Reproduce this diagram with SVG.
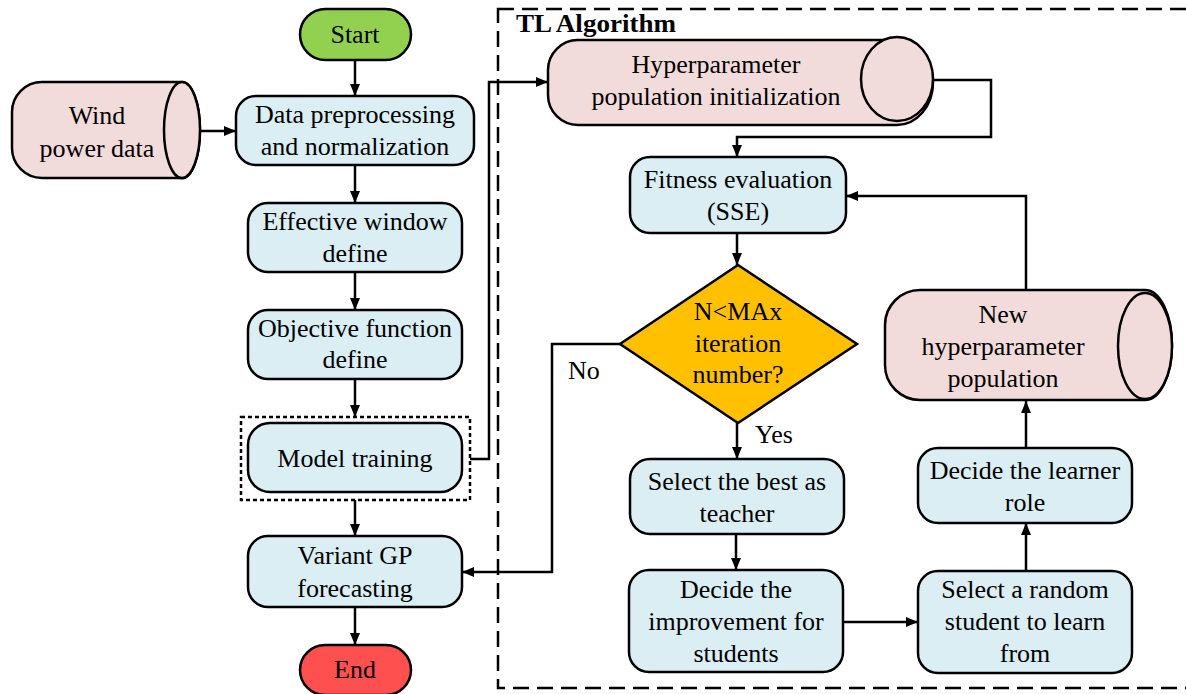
<svg xmlns="http://www.w3.org/2000/svg" width="1186" height="694" viewBox="0 0 1186 694">
  <defs>
    <marker id="arrow" viewBox="0 0 12 10" refX="12" refY="5" markerWidth="12" markerHeight="10" markerUnits="userSpaceOnUse" orient="auto">
      <path d="M0,0 L12,5 L0,10 Z" fill="#000"/>
    </marker>
    <style>
      text { font-family: "Liberation Serif", "Times New Roman", serif; font-size: 26px; fill: #000; text-anchor: middle; }
      .title { font-weight: bold; font-size: 26px; text-anchor: start; }
      .lbl { text-anchor: start; }
      .proc { fill: #daeef3; stroke: #000; stroke-width: 2.5; }
      .data { fill: #f2dcdb; stroke: #000; stroke-width: 2.5; }
      .start { fill: #92d050; stroke: #000; stroke-width: 2.5; }
      .end { fill: #ff5050; stroke: #000; stroke-width: 2.5; }
      .dec { fill: #ffc000; stroke: #000; stroke-width: 2.5; }
      .conn { fill: none; stroke: #000; stroke-width: 2.5; }
      .frame { fill: none; stroke: #000; stroke-width: 2.5; stroke-dasharray: 16 8; }
      .dotted { fill: none; stroke: #000; stroke-width: 2.5; stroke-dasharray: 4 3; }
    </style>
  </defs>

  <rect width="1186" height="694" fill="#fff"/>

  <!-- TL algorithm frame -->
  <g id="tl-frame">
    <rect class="frame" x="498" y="9" width="720" height="679"/>
    <text class="title" x="516" y="32" textLength="160" lengthAdjust="spacingAndGlyphs">TL Algorithm</text>
  </g>

  <!-- connectors -->
  <g id="connectors">
    <line class="conn" x1="355" y1="60" x2="355" y2="96" marker-end="url(#arrow)"/>
    <line class="conn" x1="200" y1="131" x2="236" y2="131" marker-end="url(#arrow)"/>
    <line class="conn" x1="355" y1="165" x2="355" y2="203" marker-end="url(#arrow)"/>
    <line class="conn" x1="355" y1="272" x2="355" y2="310" marker-end="url(#arrow)"/>
    <line class="conn" x1="355" y1="379" x2="355" y2="417" marker-end="url(#arrow)"/>
    <line class="conn" x1="355" y1="500" x2="355" y2="536" marker-end="url(#arrow)"/>
    <line class="conn" x1="355" y1="607" x2="355" y2="645" marker-end="url(#arrow)"/>
    <polyline class="conn" points="470,459 489,459 489,82 548,82" marker-end="url(#arrow)"/>
    <polyline class="conn" points="933,80 991,80 991,137 737,137 737,157" marker-end="url(#arrow)"/>
    <line class="conn" x1="737" y1="233" x2="737" y2="265" marker-end="url(#arrow)"/>
    <polyline class="conn" points="620,344 552,344 552,572 462,572" marker-end="url(#arrow)"/>
    <line class="conn" x1="737" y1="423" x2="737" y2="459" marker-end="url(#arrow)"/>
    <line class="conn" x1="736" y1="534" x2="736" y2="570" marker-end="url(#arrow)"/>
    <line class="conn" x1="843" y1="622" x2="918" y2="622" marker-end="url(#arrow)"/>
    <line class="conn" x1="1026" y1="571" x2="1026" y2="523" marker-end="url(#arrow)"/>
    <line class="conn" x1="1026" y1="448" x2="1026" y2="401" marker-end="url(#arrow)"/>
    <polyline class="conn" points="1026,290 1026,196 846,196" marker-end="url(#arrow)"/>
    <text class="lbl" x="568" y="379">No</text>
    <text class="lbl" x="755" y="443">Yes</text>
  </g>

  <g id="start">
    <rect class="start" x="300" y="9" width="111" height="51" rx="25.5"/>
    <text x="355" y="43">Start</text>
  </g>

  <g id="wind-data">
    <path class="data" d="M42,82 H182 A18,48 0 0 1 182,178 H42 A30,30 0 0 1 12,148 V112 A30,30 0 0 1 42,82 Z"/>
    <ellipse class="data" cx="182" cy="130" rx="18" ry="48"/>
    <text x="97" y="124">Wind</text>
    <text x="97" y="157">power data</text>
  </g>

  <g id="preprocess">
    <rect class="proc" x="236" y="96" width="238" height="69" rx="20"/>
    <text x="355" y="123">Data preprocessing</text>
    <text x="355" y="155">and normalization</text>
  </g>

  <g id="window">
    <rect class="proc" x="248" y="203" width="214" height="69" rx="20"/>
    <text x="355" y="230">Effective window</text>
    <text x="355" y="262">define</text>
  </g>

  <g id="objective">
    <rect class="proc" x="248" y="310" width="214" height="69" rx="20"/>
    <text x="355" y="337">Objective function</text>
    <text x="355" y="368">define</text>
  </g>

  <g id="training">
    <rect class="dotted" x="241" y="417" width="229" height="83"/>
    <rect class="proc" x="248" y="423" width="214" height="69" rx="22"/>
    <text x="355" y="467">Model training</text>
  </g>

  <g id="forecast">
    <rect class="proc" x="248" y="536" width="214" height="71" rx="20"/>
    <text x="355" y="564">Variant GP</text>
    <text x="355" y="597">forecasting</text>
  </g>

  <g id="end">
    <rect class="end" x="300" y="645" width="111" height="50" rx="25"/>
    <text x="355" y="678">End</text>
  </g>

  <g id="init-pop">
    <path class="data" d="M578,40 H897 A36,42.5 0 0 1 897,125 H578 A30,30 0 0 1 548,95 V70 A30,30 0 0 1 578,40 Z"/>
    <ellipse class="data" cx="897" cy="79" rx="36" ry="42"/>
    <text x="716" y="73">Hyperparameter</text>
    <text x="716" y="105">population initialization</text>
  </g>

  <g id="fitness">
    <rect class="proc" x="630" y="157" width="216" height="76" rx="20"/>
    <text x="738" y="188">Fitness evaluation</text>
    <text x="738" y="220">(SSE)</text>
  </g>

  <g id="decision">
    <polygon class="dec" points="738,265 857,344 738,423 620,344"/>
    <text x="738" y="320">N&lt;MAx</text>
    <text x="738" y="352">iteration</text>
    <text x="738" y="383">number?</text>
  </g>

  <g id="teacher">
    <rect class="proc" x="630" y="459" width="214" height="75" rx="20"/>
    <text x="737" y="490">Select the best as</text>
    <text x="737" y="522">teacher</text>
  </g>

  <g id="improve">
    <rect class="proc" x="629" y="570" width="214" height="102" rx="20"/>
    <text x="736" y="598">Decide the</text>
    <text x="736" y="630">improvement for</text>
    <text x="736" y="662">students</text>
  </g>

  <g id="student">
    <rect class="proc" x="918" y="571" width="214" height="102" rx="20"/>
    <text x="1025" y="598">Select a random</text>
    <text x="1025" y="630">student to learn</text>
    <text x="1025" y="662">from</text>
  </g>

  <g id="learner">
    <rect class="proc" x="918" y="448" width="214" height="75" rx="20"/>
    <text x="1025" y="479">Decide the learner</text>
    <text x="1025" y="511">role</text>
  </g>

  <g id="new-pop">
    <path class="data" d="M920,290 H1145 A27,55 0 0 1 1145,400 H920 A35,35 0 0 1 885,365 V325 A35,35 0 0 1 920,290 Z"/>
    <ellipse class="data" cx="1145" cy="346" rx="27" ry="53"/>
    <text x="1003" y="323">New</text>
    <text x="1003" y="355">hyperparameter</text>
    <text x="1003" y="387">population</text>
  </g>
</svg>
